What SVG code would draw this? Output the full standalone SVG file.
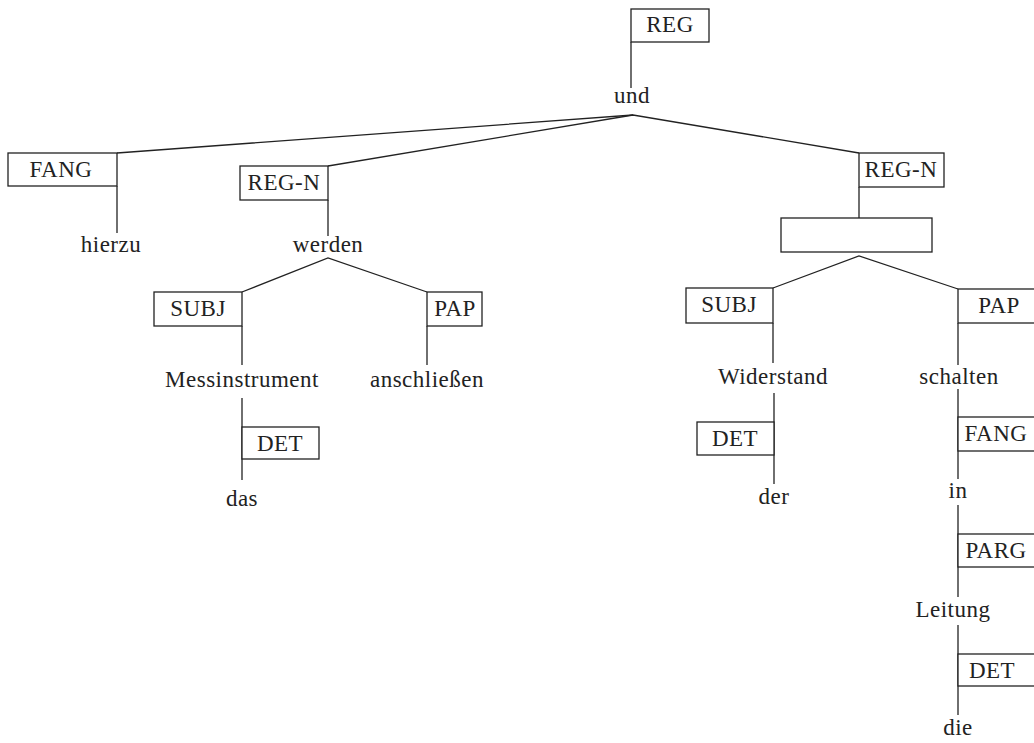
<svg xmlns="http://www.w3.org/2000/svg" width="1034" height="743" viewBox="0 0 1034 743">
  <style>
    .box { fill: #fff; stroke: #222; stroke-width: 1.3; }
    .edge { stroke: #222; stroke-width: 1.3; fill: none; }
    text { font-family: "Liberation Serif", "Times New Roman", serif; font-size: 23px; letter-spacing: 0.5px; fill: #222; }
    .c { text-anchor: middle; }
  </style>
  <rect width="1034" height="743" fill="#fff"/>

  <!-- connectors -->
  <g id="connectors" class="edge">
    <line x1="631" y1="42" x2="631" y2="88"/>
    <polyline points="117,153 633,115 859,153"/>
    <line x1="633" y1="115" x2="328" y2="166"/>
    <line x1="117" y1="186" x2="117" y2="233"/>
    <line x1="328" y1="200" x2="328" y2="236"/>
    <line x1="859" y1="187" x2="859" y2="219"/>
    <polyline points="242,292 328,258 427,292"/>
    <line x1="242" y1="326" x2="242" y2="365"/>
    <line x1="427" y1="326" x2="427" y2="365"/>
    <line x1="242" y1="398" x2="242" y2="480"/>
    <polyline points="773,288 859,256 958,289"/>
    <line x1="773" y1="323" x2="773" y2="363"/>
    <line x1="774" y1="393" x2="774" y2="484"/>
    <line x1="958" y1="323" x2="958" y2="365"/>
    <line x1="958" y1="389" x2="958" y2="479"/>
    <line x1="958" y1="505" x2="958" y2="597"/>
    <line x1="958" y1="625" x2="958" y2="715"/>
  </g>

  <!-- relation labels -->
  <g id="rel-reg"><rect class="box" x="631" y="9" width="78" height="33"/><text class="c" x="670" y="32">REG</text></g>
  <g id="rel-fang"><rect class="box" x="8" y="153" width="109" height="33"/><text class="c" x="61" y="177">FANG</text></g>
  <g id="rel-regn-1"><rect class="box" x="240" y="166" width="88" height="34"/><text class="c" x="284" y="190">REG-N</text></g>
  <g id="rel-regn-2"><rect class="box" x="859" y="153" width="85" height="34"/><text class="c" x="901" y="177">REG-N</text></g>
  <g id="empty"><rect class="box" x="781" y="218" width="151" height="34"/></g>
  <g id="rel-subj-1"><rect class="box" x="154" y="292" width="88" height="34"/><text class="c" x="198" y="316">SUBJ</text></g>
  <g id="rel-pap-1"><rect class="box" x="427" y="292" width="55" height="34"/><text class="c" x="455" y="316">PAP</text></g>
  <g id="rel-det-1"><rect class="box" x="242" y="427" width="77" height="32"/><text class="c" x="280" y="451">DET</text></g>
  <g id="rel-subj-2"><rect class="box" x="686" y="288" width="87" height="35"/><text class="c" x="729" y="312">SUBJ</text></g>
  <g id="rel-pap-2"><rect class="box" x="958" y="289" width="82" height="34"/><text class="c" x="999" y="313">PAP</text></g>
  <g id="rel-det-2"><rect class="box" x="697" y="422" width="77" height="33"/><text class="c" x="735" y="446">DET</text></g>
  <g id="rel-fang-2"><rect class="box" x="958" y="417" width="82" height="34"/><text class="c" x="996" y="441">FANG</text></g>
  <g id="rel-parg"><rect class="box" x="958" y="534" width="82" height="33"/><text class="c" x="996" y="558">PARG</text></g>
  <g id="rel-det-3"><rect class="box" x="958" y="654" width="82" height="32"/><text class="c" x="992" y="678">DET</text></g>

  <!-- words -->
  <g id="w-und"><text class="c" x="632" y="103">und</text></g>
  <g id="w-hierzu"><text class="c" x="111" y="252">hierzu</text></g>
  <g id="w-werden"><text class="c" x="328" y="252">werden</text></g>
  <g id="w-messinstrument"><text class="c" x="242" y="387">Messinstrument</text></g>
  <g id="w-anschliessen"><text class="c" x="427" y="387">anschließen</text></g>
  <g id="w-das"><text class="c" x="242" y="506">das</text></g>
  <g id="w-widerstand"><text class="c" x="773" y="384">Widerstand</text></g>
  <g id="w-schalten"><text class="c" x="959" y="384">schalten</text></g>
  <g id="w-der"><text class="c" x="774" y="504">der</text></g>
  <g id="w-in"><text class="c" x="958" y="498">in</text></g>
  <g id="w-leitung"><text class="c" x="953" y="617">Leitung</text></g>
  <g id="w-die"><text class="c" x="958" y="735">die</text></g>
</svg>
